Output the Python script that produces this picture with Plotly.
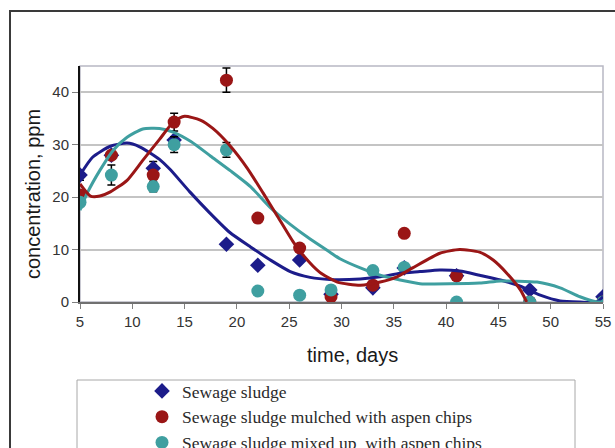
import plotly.graph_objects as go

# Measured concentrations (ppm) by sampling day
days = [5, 8, 12, 14, 19, 22, 26, 29, 33, 36, 41, 48, 55]
sludge = [24.2, 28.0, 25.5, 30.9, 11.0, 7.0, 8.0, 1.5, 2.7, 6.5, 5.0, 2.3, 1.0]
mulched = [20.4, 28.0, 24.2, 34.3, 42.3, 16.0, 10.3, 1.0, 3.2, 13.1, 5.0, 0.0, 0.0]
mixed = [19.0, 24.2, 22.0, 30.0, 29.0, 2.1, 1.3, 2.3, 6.0, 6.6, 0.0, 0.0, 0.0]

sludge_err = [1.0, 0, 1.3, 0, 0, 0, 0, 0, 0, 0, 0, 0, 0]
mulched_err = [0, 0, 0, 1.7, 2.3, 0, 0, 0, 0, 0, 0, 0, 0]
mixed_err = [0, 1.9, 1.0, 1.5, 1.4, 0, 0, 0, 0, 0, 0, 0, 0]

# Smoothed trend curves
sludge_trend_days = [5, 6.2, 7.9, 9.5, 10.7, 12.6, 13.6, 15.5, 17.4, 19.3, 21.3, 23.2, 25.1,
                     27.0, 28.9, 31.8, 33.7, 35.6, 37.5, 39.4, 41.3, 43.2, 45.2, 47.1, 49.0,
                     50.9, 52.8, 54.4, 55]
sludge_trend = [24.2, 27.6, 29.7, 30.3, 29.6, 27.2, 25.3, 21.0, 17.0, 13.3, 10.5, 8.0, 5.8,
                4.7, 4.3, 4.4, 4.8, 5.5, 5.8, 6.1, 5.9, 5.1, 4.2, 3.0, 1.3,
                0.2, 0.0, 0.0, 1.0]

mulched_trend_days = [5, 6.0, 6.9, 7.9, 9.5, 11.0, 12.6, 14.0, 15.0, 16.5, 17.7, 19.3, 21.0,
                      22.5, 23.8, 25.4, 26.3, 27.9, 29.6, 31.8, 33.7, 35.3, 36.8, 39.4, 41.3,
                      43.2, 44.5, 45.8, 47.1, 47.7]
mulched_trend = [22.5, 20.2, 20.2, 21.0, 23.2, 27.0, 31.0, 34.5, 35.4, 34.7, 33.1, 29.9, 25.5,
                 20.8, 16.6, 11.4, 9.0, 5.7, 3.8, 3.2, 3.8, 4.8, 6.5, 9.3, 10.0,
                 9.5, 8.0, 5.5, 2.3, 0.0]

mixed_trend_days = [5, 5.7, 6.9, 8.2, 9.5, 11.0, 12.6, 13.9, 15.6, 17.5, 19.4, 21.3, 23.2,
                    25.1, 27.0, 28.9, 29.9, 31.8, 33.7, 35.6, 37.5, 43.2, 45.2, 48.7, 50.9,
                    52.8, 54.4, 55]
mixed_trend = [17.5, 20.8, 25.1, 29.0, 31.4, 33.0, 33.1, 32.4, 30.6, 27.8, 25.0, 22.0, 18.0,
               14.8, 12.0, 9.5, 8.2, 6.5, 5.1, 4.2, 3.5, 3.6, 4.0, 3.8, 2.7,
               1.0, 0.0, 0.0]

x_ticks = [5, 10, 15, 20, 25, 30, 35, 40, 45, 50, 55]
y_ticks = [0, 10, 20, 30, 40]

NAVY = "#1c1c8a"
RED = "#9a1616"
TEAL = "#3f9fa0"

# plot area in pixels: x 80..603, y 66..302
W, H = 615, 448
L, R, T, B = 80, 603, 66, 302


def px(xp):
    return (xp - L) / (R - L)


def py(yp):
    return (B - yp) / (B - T)


fig = go.Figure()

err_style = dict(type="data", color="#000000", thickness=1.5, width=4, visible=True)

fig.add_trace(go.Scatter(
    x=days, y=sludge, mode="markers", name="Sewage sludge",
    marker=dict(symbol="diamond", size=12, color=NAVY),
    error_y=dict(array=sludge_err, **err_style),
))
fig.add_trace(go.Scatter(
    x=days, y=mulched, mode="markers", name="Sewage sludge mulched with aspen chips",
    marker=dict(symbol="circle", size=13, color=RED),
    error_y=dict(array=mulched_err, **err_style),
))
fig.add_trace(go.Scatter(
    x=days, y=mixed, mode="markers", name="Sewage sludge mixed up  with aspen chips",
    marker=dict(symbol="circle", size=13, color=TEAL),
    error_y=dict(array=mixed_err, **err_style),
))

for xs, ys, col in [(sludge_trend_days, sludge_trend, NAVY),
                    (mixed_trend_days, mixed_trend, TEAL),
                    (mulched_trend_days, mulched_trend, RED)]:
    fig.add_trace(go.Scatter(
        x=xs, y=ys, mode="lines", showlegend=False, hoverinfo="skip",
        line=dict(color=col, width=3, shape="spline", smoothing=0.6),
    ))

shapes = [
    # outer chart frame
    dict(type="rect", xref="paper", yref="paper",
         x0=px(10), y0=py(11), x1=px(660), y1=py(500),
         line=dict(color="#3a3a3a", width=2), layer="below"),
    # plot area border
    dict(type="rect", xref="paper", yref="paper", x0=0, y0=0, x1=1, y1=1,
         line=dict(color="#b8b8c4", width=1.5), layer="below"),
    # legend box
    dict(type="rect", xref="paper", yref="paper",
         x0=px(77), y0=py(380), x1=px(575), y1=py(500),
         line=dict(color="#a8a8a8", width=1), layer="below"),
]

annotations = [
    dict(text="time, days", xref="paper", yref="paper", x=px(352), y=py(355),
         showarrow=False, font=dict(family="Liberation Sans, Arial", size=20, color="#1a1a1a"),
         xanchor="center", yanchor="middle"),
    dict(text="concentration, ppm", xref="paper", yref="paper", x=px(33), y=py(194),
         showarrow=False, textangle=-90,
         font=dict(family="Liberation Sans, Arial", size=20, color="#1a1a1a"),
         xanchor="center", yanchor="middle"),
]

fig.update_layout(
    width=W, height=H,
    margin=dict(l=L, r=W - R, t=T, b=H - B, pad=0, autoexpand=False),
    paper_bgcolor="white", plot_bgcolor="white",
    shapes=shapes, annotations=annotations,
    showlegend=True,
    legend=dict(
        x=px(142), y=py(373), xanchor="left", yanchor="top",
        bgcolor="rgba(0,0,0,0)", borderwidth=0,
        font=dict(family="Liberation Serif, Times New Roman", size=17.5, color="#2a2a2a"),
        tracegroupgap=0,
    ),
    xaxis=dict(
        range=[5, 55], tickvals=x_ticks, ticktext=[str(v) for v in x_ticks],
        showgrid=False, zeroline=False,
        showline=True, linecolor="#707070", linewidth=2,
        ticks="outside", ticklen=5, tickcolor="#808080", tickwidth=1,
        tickfont=dict(family="Liberation Sans, Arial", size=15, color="#333333"),
    ),
    yaxis=dict(
        range=[0, 45], tickvals=y_ticks, ticktext=[str(v) for v in y_ticks],
        showgrid=True, gridcolor="#c4c4c4", gridwidth=1.5, zeroline=False,
        showline=True, linecolor="#111111", linewidth=2,
        ticks="outside", ticklen=6, tickcolor="#808080", tickwidth=1,
        tickfont=dict(family="Liberation Sans, Arial", size=15, color="#333333"),
    ),
)

fig.write_html("out.html")
